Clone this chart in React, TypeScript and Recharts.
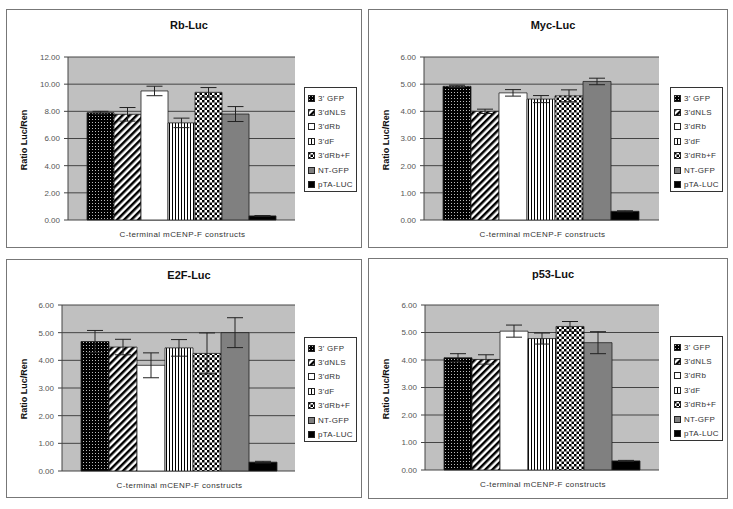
/**
 * Four luciferase reporter panels (Rb, Myc, E2F, p53) for C-terminal mCENP-F constructs.
 */

import { BarChart, Bar, XAxis, YAxis, CartesianGrid, ErrorBar } from "recharts";

const SERIES = ["3' GFP", "3'dNLS", "3'dRb", "3'dF", "3'dRb+F", "NT-GFP", "pTA-LUC"];

const RB_VALUES  = [7.9, 7.78, 9.5, 7.15, 9.4, 7.8, 0.3];
const RB_ERRORS  = [0.1, 0.5, 0.35, 0.35, 0.35, 0.55, 0.03];
const MYC_VALUES = [4.92, 4.0, 4.68, 4.45, 4.57, 5.1, 0.32];
const MYC_ERRORS = [0.04, 0.08, 0.12, 0.13, 0.22, 0.12, 0.02];
const E2F_VALUES = [4.68, 4.48, 3.82, 4.45, 4.25, 5.0, 0.32];
const E2F_ERRORS = [0.4, 0.28, 0.45, 0.3, 0.74, 0.54, 0.03];
const P53_VALUES = [4.08, 4.02, 5.05, 4.78, 5.22, 4.63, 0.33];
const P53_ERRORS = [0.15, 0.17, 0.22, 0.2, 0.18, 0.4, 0.02];

const RB_TICKS  = [0, 2, 4, 6, 8, 10, 12];
const LUC_TICKS = [0, 1, 2, 3, 4, 5, 6];

const X_LABEL = "C-terminal mCENP-F constructs";
const Y_LABEL = "Ratio Luc/Ren";

const FILLS = ["url(#pDots)", "url(#pDiag)", "#ffffff", "url(#pVert)", "url(#pCheck)", "#808080", "#000000"];
const FONT = "'Liberation Sans', Arial, sans-serif";

// panel box + plot-area offsets (relative to the panel)
const PANELS = [
  { title: "Rb-Luc",  values: RB_VALUES,  errors: RB_ERRORS,  ticks: RB_TICKS,  x: 6,   y: 9,   w: 356, h: 239, pl: 61, pt: 47, pr: 290, pb: 212 },
  { title: "Myc-Luc", values: MYC_VALUES, errors: MYC_ERRORS, ticks: LUC_TICKS, x: 368, y: 9,   w: 360, h: 239, pl: 55, pt: 47, pr: 292, pb: 212 },
  { title: "E2F-Luc", values: E2F_VALUES, errors: E2F_ERRORS, ticks: LUC_TICKS, x: 6,   y: 259, w: 356, h: 239, pl: 55, pt: 45, pr: 290, pb: 213 },
  { title: "p53-Luc", values: P53_VALUES, errors: P53_ERRORS, ticks: LUC_TICKS, x: 368, y: 258, w: 360, h: 241, pl: 56, pt: 46, pr: 292, pb: 213 },
];

function Patterns() {
  return (
    <defs>
      <pattern id="pDots" width="3" height="3" patternUnits="userSpaceOnUse">
        <rect width="3" height="3" fill="#000" />
        <rect x="1" y="1" width="1" height="1" fill="#bbb" />
      </pattern>
      <pattern id="pDiag" width="5" height="5" patternUnits="userSpaceOnUse" patternTransform="rotate(45)">
        <rect width="5" height="5" fill="#fff" />
        <rect width="2.5" height="5" fill="#000" />
      </pattern>
      <pattern id="pVert" width="3" height="3" patternUnits="userSpaceOnUse">
        <rect width="3" height="3" fill="#fff" />
        <rect width="1" height="3" fill="#000" />
      </pattern>
      <pattern id="pCheck" width="5" height="5" patternUnits="userSpaceOnUse">
        <rect width="5" height="5" fill="#fff" />
        <rect width="2.5" height="2.5" fill="#000" />
        <rect x="2.5" y="2.5" width="2.5" height="2.5" fill="#000" />
      </pattern>
    </defs>
  );
}

function Panel({ p }: { p: (typeof PANELS)[number] }) {
  const row: Record<string, any> = { name: "" };
  p.values.forEach((v, i) => { row[`v${i}`] = v; row[`e${i}`] = p.errors[i]; });
  const data = [row];
  const yMax = p.ticks[p.ticks.length - 1];
  const plotMidX = (p.pl + p.pr) / 2;
  const plotMidY = (p.pt + p.pb) / 2;

  return (
    <div style={{ position: "absolute", left: p.x, top: p.y, width: p.w, height: p.h, border: "1px solid #777", boxSizing: "border-box", fontFamily: FONT }}>
      <div style={{ position: "absolute", left: 0, width: p.w, top: 9, textAlign: "center", fontSize: 11, fontWeight: "bold", color: "#111", paddingLeft: 8, boxSizing: "border-box" }}>
        {p.title}
      </div>
      <BarChart
        width={p.w - 2}
        height={p.h - 2}
        data={data}
        margin={{ top: p.pt, right: p.w - p.pr, bottom: p.h - p.pb, left: 0 }}
        barCategoryGap={19}
        barGap={0}
        style={{ position: "absolute", left: 0, top: 0 }}
      >
        <Patterns />
        <CartesianGrid vertical={false} stroke="#444" fill="#c0c0c0" fillOpacity={1} />
        <XAxis dataKey="name" hide />
        <YAxis
          domain={[0, yMax]}
          ticks={p.ticks}
          interval={0}
          width={p.pl}
          tickFormatter={(v: number) => v.toFixed(2)}
          tick={{ fontSize: 8, fill: "#555", fontFamily: FONT }}
          axisLine={{ stroke: "#444" }}
          tickLine={{ stroke: "#444" }}
          tickSize={4}
          tickMargin={4}
        />
        {SERIES.map((s, i) => (
          <Bar key={s} dataKey={`v${i}`} name={s} fill={FILLS[i]} stroke="#222" strokeWidth={0.8} isAnimationActive={false}>
            <ErrorBar dataKey={`e${i}`} width={8} stroke="#222" strokeWidth={1} direction="y" />
          </Bar>
        ))}
      </BarChart>

      {/* y label */}
      <div style={{ position: "absolute", left: 17, top: plotMidY, transform: "translate(-50%, -50%) rotate(-90deg)", whiteSpace: "nowrap", fontSize: 9, fontWeight: "bold", color: "#111" }}>
        {Y_LABEL}
      </div>

      {/* x label */}
      <div style={{ position: "absolute", left: plotMidX, top: p.pb + 8, transform: "translateX(-50%)", whiteSpace: "nowrap", fontSize: 8, color: "#333", letterSpacing: 0.4 }}>
        {X_LABEL}
      </div>

      {/* legend */}
      <div style={{ position: "absolute", left: p.w - 59, top: 77, width: 53, height: 105, border: "1px solid #333", background: "#fff", boxSizing: "border-box", paddingTop: 3 }}>
        {SERIES.map((s, i) => (
          <div key={s} style={{ height: 14.4, display: "flex", alignItems: "center", fontSize: 8, color: "#333", whiteSpace: "nowrap", letterSpacing: 0.3 }}>
            <svg width={7} height={7} style={{ marginLeft: 3, marginRight: 3 }}>
              <rect x={0.5} y={0.5} width={6} height={6} fill={FILLS[i]} stroke="#222" strokeWidth={1} />
            </svg>
            {s}
          </div>
        ))}
      </div>
    </div>
  );
}

export default function App() {
  return (
    <div style={{ position: "absolute", left: 0, top: 0, width: 733, height: 509, background: "#fff" }}>
      {PANELS.map((p) => (
        <Panel key={p.title} p={p} />
      ))}
    </div>
  );
}
